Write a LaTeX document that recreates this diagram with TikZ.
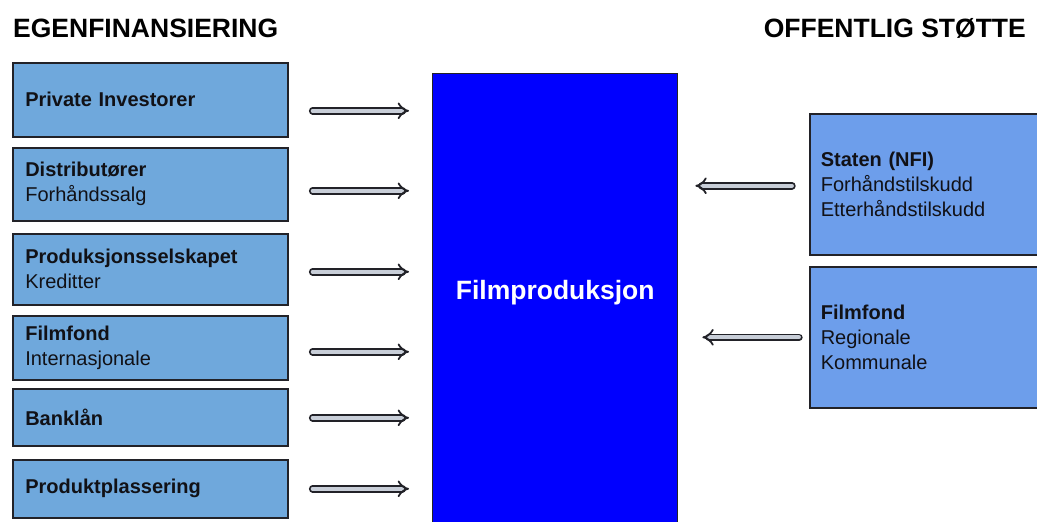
\documentclass[tikz,border=0pt]{standalone}
\usepackage{fontspec}
\setmainfont{Liberation Sans}
\usetikzlibrary{arrows.meta}
\definecolor{leftfill}{RGB}{111,168,220}
\definecolor{rightfill}{RGB}{109,158,235}
\definecolor{centerfill}{RGB}{0,0,255}
\definecolor{edgecol}{RGB}{34,34,40}
\definecolor{arrowfill}{RGB}{200,206,216}
\definecolor{txtcol}{RGB}{17,17,22}
\tikzset{
  heading/.style={font=\fontsize{26.5}{30}\selectfont\bfseries, text=black, inner sep=0pt},
  leftbox/.style={draw=edgecol, line width=1.6pt, fill=leftfill, anchor=north west,
    minimum width=275pt, text width=250pt, inner xsep=12.5pt, inner ysep=0pt, align=left,
    text=txtcol, font=\fontsize{20}{25}\selectfont},
  rightbox/.style={leftbox, fill=rightfill, minimum width=240pt, text width=218pt, inner xsep=11pt},
  fpbox/.style={draw=edgecol, line width=1.4pt, fill=centerfill, anchor=north west,
    minimum width=245pt, minimum height=460pt, inner sep=0pt},
  fptext/.style={text=white, font=\fontsize{26.5}{30}\selectfont\bfseries},
  flow/.style={draw=edgecol, line width=1.8pt, double=arrowfill, double distance=3.8pt,
    line cap=round, -{Implies[scale=1.5]}},
}
\begin{document}
\begin{tikzpicture}[x=1pt, y=-1pt]
\path[use as bounding box, clip] (0,0) rectangle (1037,522);
\fill[white] (0,0) rectangle (1037,522);

\node[heading, anchor=base west] (h1) at (13,37) {EGENFINANSIERING};
\node[heading, anchor=base east] (h2) at (1026,37) {OFFENTLIG STØTTE};

\node[fpbox, label={[fptext, yshift=11.5pt]center:Filmproduksjon}] (fp) at (432,73) {};

\node[leftbox, minimum height=74pt] (b1) at (12,62) {\textbf{Private Investorer}};
\node[leftbox, minimum height=73pt] (b2) at (12,147) {\textbf{Distributører}\\Forhåndssalg};
\node[leftbox, minimum height=71pt] (b3) at (12,233) {\textbf{Produksjonsselskapet}\\Kreditter};
\node[leftbox, minimum height=64pt] (b4) at (12,315) {\textbf{Filmfond}\\Internasjonale};
\node[leftbox, minimum height=57pt] (b5) at (12,388) {\textbf{Banklån}};
\node[leftbox, minimum height=58pt] (b6) at (12,459) {\textbf{Produktplassering}};

\node[rightbox, minimum height=141pt] (r1) at (809,113) {\textbf{Staten (NFI)}\\Forhåndstilskudd\\Etterhåndstilskudd};
\node[rightbox, minimum height=141pt] (r2) at (809,266) {\textbf{Filmfond}\\Regionale\\Kommunale};

\draw[flow, shorten <=24pt, shorten >=23pt] ([yshift=-11pt]b1.east) -- ([yshift=-11pt]b1.east -| fp.west);
\draw[flow, shorten <=24pt, shorten >=23pt] ([yshift=-6.5pt]b2.east) -- ([yshift=-6.5pt]b2.east -| fp.west);
\draw[flow, shorten <=24pt, shorten >=23pt] ([yshift=-2.5pt]b3.east) -- ([yshift=-2.5pt]b3.east -| fp.west);
\draw[flow, shorten <=24pt, shorten >=23pt] ([yshift=-4pt]b4.east) -- ([yshift=-4pt]b4.east -| fp.west);
\draw[flow, shorten <=24pt, shorten >=23pt] ([yshift=-0.5pt]b5.east) -- ([yshift=-0.5pt]b5.east -| fp.west);
\draw[flow, shorten <=24pt, shorten >=23pt] (b6.east) -- (b6.east -| fp.west);

\draw[flow, shorten <=17pt, shorten >=17pt] ([yshift=-1.5pt]r1.west) -- ([yshift=-1.5pt]r1.west -| fp.east);
\draw[flow, shorten <=10pt, shorten >=24pt] (r2.west) -- (r2.west -| fp.east);
\end{tikzpicture}
\end{document}
